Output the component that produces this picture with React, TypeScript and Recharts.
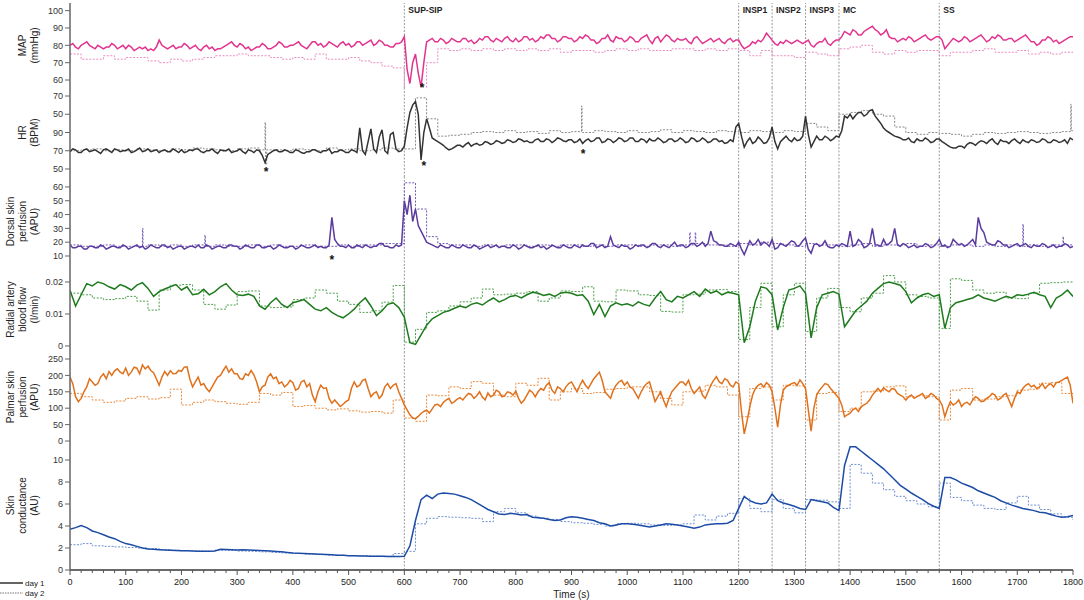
import React from 'react';
import { LineChart, Line, XAxis, YAxis, ReferenceLine, ReferenceDot, Legend } from 'recharts';

const FONT = '"Liberation Sans", Arial, Helvetica, sans-serif';
const W = 1084;

// time grids: fast day-1 traces every 5 s, slow ones every 10 s, day 2 every 20 s (step trace)
const times5 = Array.from({ length: 361 }, (_, i) => i * 5);
const times10 = Array.from({ length: 181 }, (_, i) => i * 10);
const times20 = Array.from({ length: 91 }, (_, i) => i * 20);
const xTicks = Array.from({ length: 91 }, (_, i) => i * 20);

const events = [
  { t: 600, label: 'SUP-SIP' },
  { t: 1200, label: 'INSP1' },
  { t: 1260, label: 'INSP2' },
  { t: 1320, label: 'INSP3' },
  { t: 1380, label: 'MC' },
  { t: 1560, label: 'SS' },
];

// MAP (mmHg), day 1 every 5 s
const mapDay1 = [
  80, 81, 79, 78, 80, 81, 82, 80, 79, 78,
  80, 79, 78, 79, 79, 81, 80, 78, 79, 80,
  78, 80, 79, 77, 78, 79, 78, 79, 77, 78,
  77, 79, 83, 80, 79, 78, 79, 80, 78, 79,
  79, 81, 80, 78, 79, 80, 78, 77, 79, 80,
  78, 79, 77, 78, 78, 79, 80, 81, 82, 80,
  79, 81, 80, 78, 79, 77, 78, 79, 79, 81,
  80, 78, 78, 79, 80, 82, 81, 79, 79, 80,
  80, 81, 82, 80, 79, 78, 80, 82, 82, 80,
  81, 79, 80, 82, 81, 80, 79, 81, 82, 80,
  81, 79, 80, 82, 82, 80, 81, 82, 83, 80,
  81, 83, 82, 80, 80, 79, 79, 81, 81, 82,
  85, 66, 58, 70, 75, 64, 56, 70, 82, 83,
  84, 82, 82, 84, 83, 81, 82, 84, 83, 82,
  82, 84, 84, 82, 83, 81, 82, 84, 83, 85,
  85, 83, 82, 84, 83, 82, 84, 85, 83, 82,
  84, 82, 83, 85, 85, 83, 84, 82, 83, 85,
  84, 86, 86, 84, 84, 82, 83, 85, 85, 84,
  84, 82, 83, 85, 84, 86, 85, 83, 83, 81,
  82, 84, 84, 86, 83, 82, 85, 84, 84, 82,
  83, 85, 84, 82, 82, 84, 85, 86, 83, 81,
  84, 85, 82, 84, 86, 85, 83, 82, 84, 83,
  83, 84, 82, 81, 84, 85, 83, 81, 82, 83,
  84, 82, 83, 84, 82, 81, 83, 84, 82, 83,
  83, 80, 78, 79, 80, 82, 81, 83, 82, 84,
  87, 85, 83, 81, 80, 82, 81, 83, 82, 81,
  82, 83, 82, 81, 82, 83, 80, 79, 81, 82,
  82, 84, 81, 80, 82, 83, 83, 85, 88, 87,
  86, 89, 88, 86, 86, 88, 89, 90, 91, 89,
  88, 86, 87, 89, 85, 84, 84, 82, 83, 84,
  83, 85, 84, 82, 83, 84, 85, 86, 84, 83,
  84, 85, 85, 83, 78, 80, 82, 84, 83, 82,
  83, 85, 84, 82, 83, 84, 85, 86, 84, 82,
  83, 85, 84, 86, 85, 83, 83, 84, 84, 82,
  83, 84, 85, 86, 84, 82, 82, 80, 81, 83,
  83, 85, 84, 82, 83, 81, 82, 83, 84, 85,
  85,
];
const mapDay2 = [
  75, 72, 72, 74, 72, 73, 73, 71, 70, 72,
  71, 72, 73, 74, 74, 75, 74, 74, 73, 72,
  73, 72, 75, 72, 72, 73, 71, 70, 68, 67,
  55, 55, 70, 78, 77, 78, 77, 78, 77, 78,
  77, 78, 77, 78, 76, 77, 77, 76, 77, 78,
  77, 78, 77, 77, 78, 78, 77, 78, 77, 78,
  77, 74, 77, 74, 74, 73, 76, 75, 74, 78,
  79, 80, 76, 75, 77, 76, 77, 77, 74, 76,
  76, 77, 78, 76, 76, 77, 75, 76, 75, 76, 77,
];

// HR (BPM), day 1 every 5 s
const hrDay1 = [
  69, 72, 71, 68, 68, 71, 72, 69, 70, 71,
  69, 67, 71, 72, 70, 68, 72, 71, 69, 70,
  70, 72, 68, 69, 71, 73, 69, 70, 72, 69,
  70, 71, 68, 70, 71, 69, 69, 72, 70, 68,
  71, 68, 69, 71, 70, 72, 72, 69, 68, 70,
  70, 72, 69, 67, 71, 70, 70, 72, 68, 69,
  70, 72, 69, 67, 71, 70, 68, 71, 70, 65,
  57, 66, 68, 70, 71, 69, 69, 71, 70, 68,
  68, 71, 70, 68, 67, 69, 69, 71, 71, 69,
  68, 70, 70, 72, 67, 69, 69, 71, 70, 68,
  68, 71, 70, 68, 95, 70, 66, 80, 94, 72,
  68, 85, 93, 70, 67, 88, 90, 72, 69, 70,
  75, 95, 112, 120, 124, 110, 60, 90, 105, 95,
  84, 82, 80, 78, 76, 73, 71, 72, 74, 76,
  76, 74, 77, 79, 75, 77, 78, 76, 77, 80,
  79, 77, 78, 81, 80, 78, 79, 82, 81, 79,
  80, 83, 82, 80, 81, 79, 79, 82, 83, 80,
  80, 83, 82, 79, 81, 84, 83, 81, 80, 82,
  82, 79, 80, 83, 78, 81, 83, 80, 81, 84,
  84, 79, 80, 83, 82, 79, 81, 84, 83, 80,
  81, 84, 84, 80, 80, 83, 82, 79, 83, 81,
  81, 84, 82, 79, 80, 83, 83, 80, 81, 84,
  82, 79, 80, 84, 83, 80, 81, 84, 82, 79,
  80, 83, 83, 80, 81, 78, 79, 82, 80, 96,
  100, 86, 74, 80, 84, 78, 80, 85, 82, 78,
  79, 84, 96, 80, 72, 80, 83, 86, 82, 80,
  84, 81, 82, 86, 108, 88, 74, 80, 86, 82,
  82, 86, 84, 81, 83, 86, 85, 92, 108, 106,
  110, 105, 109, 112, 112, 108, 110, 114, 115, 108,
  104, 100, 95, 92, 90, 88, 86, 85, 84, 82,
  82, 84, 80, 79, 83, 81, 81, 84, 82, 79,
  80, 83, 83, 80, 78, 76, 74, 73, 73, 75,
  75, 73, 77, 79, 78, 76, 79, 81, 80, 78,
  81, 83, 79, 77, 82, 80, 80, 78, 81, 83,
  80, 78, 82, 80, 79, 82, 81, 79, 80, 83,
  82, 79, 79, 82, 81, 79, 80, 82, 78, 84,
  82,
];
const hrDay2 = [
  70, 71, 72, 70, 71, 70, 72, 71, 70, 72,
  71, 73, 72, 71, 70, 72, 73, 71, 71, 70,
  72, 71, 70, 73, 71, 72, 70, 71, 73, 72,
  72, 128, 105, 86, 87, 88, 90, 91, 90, 92,
  90, 91, 89, 92, 90, 91, 90, 92, 91, 90,
  92, 90, 91, 93, 90, 92, 91, 90, 92, 91,
  90, 92, 91, 90, 92, 91, 100, 96, 92, 110,
  112, 114, 110, 108, 96, 90, 88, 90, 89, 88,
  86, 88, 90, 89, 90, 91, 90, 89, 90, 91, 92,
];
const hrDay2Spikes = [[350, 101], [351, 55], [353, 71], [918, 119], [919, 90], [1796, 121], [1797, 92]];
// the HR axis prints these labels at 50, 70, 90, 110, 130
const hrTickLabels = ['50', '70', '90', '50', '70'];

// dorsal skin perfusion (APU), day 1 every 5 s
const dorsalDay1 = [
  18, 16, 16, 17, 17, 15, 15, 17, 17, 16,
  16, 18, 17, 15, 16, 17, 17, 16, 16, 18,
  17, 15, 16, 17, 18, 16, 17, 15, 16, 18,
  17, 16, 16, 18, 18, 16, 17, 15, 16, 17,
  17, 15, 16, 17, 17, 16, 18, 16, 16, 18,
  17, 15, 16, 17, 17, 16, 16, 18, 18, 17,
  17, 15, 16, 18, 17, 16, 16, 18, 18, 16,
  16, 17, 17, 15, 16, 18, 17, 16, 16, 17,
  17, 15, 16, 18, 17, 16, 16, 17, 18, 16,
  17, 16, 16, 18, 38, 22, 19, 17, 17, 16,
  18, 16, 16, 18, 17, 16, 18, 17, 16, 17,
  17, 19, 19, 17, 17, 16, 16, 18, 17, 18,
  50, 40, 54, 35, 44, 32, 28, 24, 20, 19,
  18, 17, 16, 18, 17, 16, 16, 18, 17, 16,
  16, 18, 17, 16, 16, 18, 17, 15, 16, 17,
  18, 16, 17, 18, 16, 17, 17, 16, 16, 18,
  17, 15, 16, 18, 17, 16, 16, 17, 18, 16,
  17, 15, 16, 18, 17, 16, 16, 18, 17, 16,
  16, 18, 17, 16, 18, 17, 17, 19, 19, 16,
  17, 18, 16, 17, 24, 18, 17, 16, 18, 17,
  17, 15, 16, 18, 17, 18, 18, 16, 17, 19,
  19, 17, 16, 18, 17, 16, 18, 20, 17, 18,
  18, 16, 17, 19, 19, 17, 18, 20, 17, 19,
  28, 21, 20, 18, 18, 17, 17, 19, 18, 17,
  20, 15, 11, 16, 21, 18, 19, 22, 18, 20,
  19, 17, 22, 15, 16, 19, 18, 17, 19, 21,
  20, 17, 18, 21, 23, 15, 12, 18, 19, 17,
  18, 21, 17, 16, 16, 18, 17, 19, 18, 17,
  28, 17, 18, 22, 20, 16, 17, 19, 30, 18,
  18, 17, 22, 18, 19, 21, 30, 18, 17, 19,
  18, 16, 17, 18, 16, 17, 17, 19, 18, 16,
  17, 19, 22, 17, 18, 16, 17, 22, 20, 18,
  19, 17, 18, 20, 22, 18, 38, 30, 27, 20,
  19, 18, 18, 21, 20, 18, 18, 16, 17, 18,
  19, 17, 18, 19, 17, 16, 18, 17, 17, 19,
  18, 16, 17, 18, 16, 17, 17, 19, 18, 16,
  17,
];
const dorsalDay2 = [
  18, 17, 17, 18, 17, 17, 17, 18, 17, 18,
  17, 18, 17, 18, 17, 17, 18, 17, 18, 17,
  17, 18, 17, 17, 18, 17, 18, 18, 19, 19,
  63, 44, 24, 19, 18, 18, 17, 18, 17, 18,
  18, 17, 18, 17, 18, 18, 17, 18, 17, 18,
  18, 17, 18, 18, 17, 18, 19, 18, 18, 17,
  19, 18, 20, 19, 18, 17, 19, 18, 18, 17,
  18, 19, 17, 18, 18, 19, 17, 18, 17, 18,
  18, 17, 18, 17, 18, 17, 18, 17, 18, 17, 18,
];
const dorsalDay2Spikes = [[130, 30], [131, 17], [242, 25], [243, 17], [1112, 27], [1113, 18], [1122, 27], [1123, 19], [1710, 33], [1711, 17], [1782, 24], [1783, 18]];

// radial artery blood flow (l/min), day 1 every 10 s
const radialDay1 = [
  0.0174, 0.0125, 0.016, 0.0195, 0.0188, 0.02, 0.0195, 0.0185, 0.0178, 0.0192,
  0.0185, 0.0175, 0.019, 0.0198, 0.018, 0.0155, 0.017, 0.0178, 0.0185, 0.0192,
  0.0175, 0.0185, 0.016, 0.0163, 0.0177, 0.016, 0.017, 0.0185, 0.0195, 0.0175,
  0.016, 0.0158, 0.0162, 0.0155, 0.0125, 0.0115, 0.0135, 0.015, 0.013, 0.012,
  0.0135, 0.014, 0.0145, 0.013, 0.0115, 0.011, 0.012, 0.0105, 0.0095, 0.0088,
  0.01, 0.0115, 0.0135, 0.015, 0.0125, 0.0095, 0.011, 0.013, 0.0135, 0.012,
  0.009, 0.001, 0.0005, 0.0035, 0.0065, 0.0085, 0.0095, 0.0105, 0.011, 0.0118,
  0.0125, 0.012, 0.013, 0.0135, 0.0128, 0.014, 0.015, 0.0138, 0.0145, 0.0155,
  0.0158, 0.015, 0.016, 0.0168, 0.0165, 0.0158, 0.0162, 0.0155, 0.0165, 0.0168,
  0.0165, 0.0158, 0.016, 0.014, 0.0098, 0.013, 0.0092, 0.0125, 0.0135, 0.0128,
  0.0132, 0.0125, 0.0138, 0.013, 0.0125, 0.015, 0.017, 0.0145, 0.0138, 0.0155,
  0.015, 0.016, 0.017, 0.0155, 0.0178, 0.0165, 0.0172, 0.016, 0.0168, 0.0165,
  0.016, 0.001, 0.006, 0.014, 0.0185, 0.018, 0.016, 0.005, 0.012, 0.0175,
  0.018, 0.0188, 0.0165, 0.0025, 0.012, 0.016, 0.0165, 0.017, 0.0162, 0.006,
  0.0085, 0.011, 0.0125, 0.014, 0.0165, 0.018, 0.0195, 0.02, 0.0195, 0.019,
  0.017, 0.0135, 0.015, 0.016, 0.0165, 0.0155, 0.016, 0.0055, 0.012, 0.0135,
  0.014, 0.0145, 0.015, 0.016, 0.015, 0.0145, 0.014, 0.0148, 0.0155, 0.015,
  0.016, 0.0158, 0.0162, 0.0168, 0.016, 0.0155, 0.012, 0.015, 0.016, 0.0175,
  0.0155,
];
const radialDay2 = [
  0.0165, 0.016, 0.015, 0.0145, 0.0148, 0.0155, 0.014, 0.0112, 0.0175, 0.019,
  0.0192, 0.0175, 0.013, 0.0115, 0.0128, 0.017, 0.0172, 0.0125, 0.012, 0.0122,
  0.0145, 0.015, 0.0175, 0.0165, 0.014, 0.013, 0.0105, 0.011, 0.0137, 0.0189,
  0.0012, 0.0052, 0.0105, 0.011, 0.0125, 0.0138, 0.015, 0.0178, 0.016, 0.0162,
  0.0165, 0.017, 0.014, 0.015, 0.0172, 0.017, 0.0185, 0.014, 0.0138, 0.0175,
  0.0172, 0.016, 0.0158, 0.0108, 0.0106, 0.016, 0.0162, 0.0175, 0.0176, 0.017,
  0.002, 0.012, 0.0196, 0.006, 0.016, 0.0196, 0.0045, 0.015, 0.018, 0.012,
  0.0107, 0.015, 0.0165, 0.022, 0.02, 0.016, 0.0155, 0.015, 0.0055, 0.021,
  0.0205, 0.0175, 0.0165, 0.0168, 0.015, 0.0148, 0.0165, 0.0196, 0.0198, 0.02, 0.02,
];

// palmar skin perfusion (APU), day 1 every 5 s
const palmarDay1 = [
  195, 175, 135, 120, 130, 150, 165, 190, 180, 170,
  175, 195, 205, 190, 212, 200, 214, 220, 210, 205,
  222, 200, 210, 225, 222, 205, 232, 220, 228, 215,
  208, 190, 170, 195, 212, 200, 214, 205, 206, 215,
  212, 225, 226, 190, 165, 180, 195, 170, 175, 160,
  150, 165, 180, 195, 200, 215, 228, 210, 220, 205,
  205, 190, 188, 205, 200, 215, 202, 180, 150, 165,
  170, 195, 205, 190, 195, 175, 180, 165, 172, 185,
  178, 155, 160, 180, 185, 165, 175, 140, 120, 150,
  170, 160, 162, 130, 115, 125, 115, 105, 112, 120,
  125, 160, 180, 165, 170, 185, 188, 160, 135, 145,
  150, 130, 140, 165, 175, 160, 170, 175, 150, 130,
  110, 95, 80, 70, 68, 75, 84, 90, 94, 85,
  98, 110, 112, 105, 118, 125, 130, 115, 120, 128,
  132, 125, 136, 145, 142, 130, 138, 150, 134, 125,
  146, 135, 140, 155, 150, 135, 138, 150, 147, 140,
  152, 130, 115, 125, 140, 155, 148, 135, 150, 160,
  155, 170, 178, 155, 145, 165, 160, 150, 165, 175,
  180, 165, 150, 170, 185, 170, 160, 175, 190, 200,
  210, 185, 150, 140, 130, 155, 170, 180, 185, 170,
  180, 165, 160, 145, 130, 150, 165, 175, 180, 150,
  120, 135, 150, 125, 105, 130, 150, 160, 170, 180,
  180, 170, 185, 160, 145, 155, 165, 140, 130, 150,
  170, 185, 196, 180, 175, 190, 185, 170, 165, 180,
  175, 90, 22, 60, 105, 140, 160, 170, 175, 165,
  178, 170, 150, 100, 42, 110, 155, 165, 170, 175,
  178, 170, 186, 175, 160, 95, 30, 100, 140, 155,
  165, 175, 172, 160, 150, 140, 130, 110, 74, 80,
  85, 95, 100, 90, 105, 110, 115, 125, 140, 150,
  160, 150, 162, 155, 150, 160, 158, 145, 140, 135,
  125, 135, 140, 130, 135, 140, 145, 130, 135, 145,
  140, 130, 125, 110, 74, 100, 120, 110, 115, 125,
  105, 115, 118, 110, 125, 135, 130, 120, 122, 130,
  135, 145, 140, 125, 130, 140, 145, 125, 105, 130,
  150, 145, 160, 170, 175, 165, 170, 160, 165, 175,
  160, 170, 175, 165, 178, 180, 185, 190, 195, 170,
  115,
];
const palmarDay2 = [
  145, 135, 125, 118, 122, 130, 135, 128, 132, 158,
  110, 118, 125, 120, 115, 112, 118, 145, 140, 148,
  105, 108, 100, 95, 98, 92, 88, 90, 85, 125,
  70, 60, 140, 138, 165, 160, 181, 176, 140, 135,
  176, 170, 191, 125, 150, 160, 145, 148, 158, 160,
  165, 165, 150, 130, 110, 150, 152, 170, 165, 140,
  74, 160, 165, 125, 170, 168, 64, 145, 148, 90,
  100, 150, 152, 165, 168, 135, 138, 135, 64, 155,
  160, 125, 128, 135, 138, 155, 158, 176, 178, 145, 145,
];

// skin conductance (AU), day 1 every 10 s
const skinDay1 = [
  3.7, 3.85, 4.05, 3.85, 3.55, 3.4, 3.2, 3.0, 2.85, 2.6,
  2.4, 2.3, 2.15, 2.0, 1.92, 1.88, 1.85, 1.82, 1.8, 1.78,
  1.75, 1.74, 1.72, 1.71, 1.7, 1.7, 1.72, 1.88, 1.86, 1.84,
  1.82, 1.84, 1.82, 1.8, 1.78, 1.75, 1.72, 1.68, 1.65, 1.6,
  1.55, 1.52, 1.5, 1.47, 1.45, 1.43, 1.4, 1.38, 1.35, 1.33,
  1.3, 1.29, 1.28, 1.27, 1.25, 1.25, 1.24, 1.23, 1.22, 1.22,
  1.25, 2.2, 4.5, 6.4, 6.8, 6.5, 6.9, 7.0, 6.95, 6.9,
  6.75, 6.6, 6.4, 6.1, 5.8, 5.5, 5.3, 5.1, 5.05, 5.15,
  5.1, 5.0, 5.05, 4.8, 4.75, 4.7, 4.6, 4.5, 4.55, 4.75,
  4.85, 4.8, 4.7, 4.6, 4.5, 4.3, 4.2, 4.0, 4.1, 4.2,
  4.2, 4.15, 4.1, 4.0, 3.9, 4.0, 4.1, 4.2, 4.15, 4.1,
  4.0, 3.9, 3.8, 3.9, 4.1, 4.15, 4.2, 4.2, 4.25, 4.5,
  5.6, 6.7, 6.3, 6.1, 6.0, 6.1, 6.9, 6.3, 6.1, 5.95,
  5.8, 5.6, 5.5, 6.4, 6.3, 6.2, 6.1, 5.7, 5.4, 9.5,
  11.2, 11.2, 10.8, 10.4, 10.0, 9.6, 9.2, 8.7, 8.2, 7.7,
  7.35, 7.0, 6.7, 6.4, 6.05, 5.8, 5.6, 8.4, 8.4, 8.2,
  7.9, 7.7, 7.5, 7.2, 7.0, 6.8, 6.6, 6.3, 6.1, 5.9,
  5.75, 5.6, 5.5, 5.4, 5.25, 5.2, 5.05, 4.9, 4.8, 4.85,
  4.95,
];
const skinDay2 = [
  2.3, 2.4, 2.2, 2.15, 2.1, 2.05, 2.0, 1.95, 1.85, 1.8,
  1.75, 1.72, 1.7, 1.8, 1.78, 1.72, 1.7, 1.65, 1.6, 1.55,
  1.5, 1.45, 1.4, 1.35, 1.33, 1.3, 1.28, 1.25, 1.25, 1.5,
  1.7, 4.2, 4.7, 4.85, 4.8, 4.75, 4.7, 4.4, 5.3, 5.6,
  5.2, 4.9, 4.7, 4.6, 4.4, 4.3, 4.25, 4.15, 4.0, 4.2,
  4.25, 4.2, 4.1, 4.05, 4.1, 4.2, 5.0, 4.55, 4.9, 5.15,
  6.5, 5.6, 5.3, 6.4, 5.6, 5.2, 6.4, 6.35, 6.2, 5.6,
  9.6, 8.8, 7.9, 7.3, 6.7, 6.3, 6.0, 5.75, 7.9, 6.6,
  6.3, 5.9, 5.6, 5.5, 6.1, 6.7, 5.9, 5.5, 5.1, 4.8, 4.55,
];

const toRows = (times: number[], vals: number[], extra: number[][] = []) =>
  times
    .map((t, i) => ({ t, v: vals[i] }))
    .concat(extra.map(([t, v]) => ({ t, v })))
    .sort((a, b) => a.t - b.t);

const panels = [
  {
    id: 'map', title: ['MAP', '(mmHg)'], top: 3, bottom: 88,
    domain: [55.4, 104.4], ticks: [60, 70, 80, 90, 100],
    c1: '#e2348f', c2: '#ea8cc0', t1: times5, d1: mapDay1, d2: mapDay2, extra: [],
    marks: [{ t: 632, v: 55.8 }],
  },
  {
    id: 'hr', title: ['HR', '(BPM)'], top: 88, bottom: 177,
    domain: [41.2, 138.8], ticks: [50, 70, 90, 110, 130],
    fmt: (v: number) => hrTickLabels[[50, 70, 90, 110, 130].indexOf(v)],
    c1: '#333333', c2: '#8a8a8a', t1: times5, d1: hrDay1, d2: hrDay2, extra: hrDay2Spikes,
    marks: [{ t: 352, v: 46.5 }, { t: 635, v: 53.5 }, { t: 921, v: 66.5 }],
  },
  {
    id: 'dorsal', title: ['Dorsal skin', 'perfusion', '(APU)'], top: 177, bottom: 266,
    domain: [2.75, 67.2], ticks: [10, 20, 30, 40, 50, 60],
    c1: '#5a3b9e', c2: '#7458b8', t1: times5, d1: dorsalDay1, d2: dorsalDay2, extra: dorsalDay2Spikes,
    marks: [{ t: 470, v: 7.4 }],
  },
  {
    id: 'radial', title: ['Radial artery', 'blood flow', '(l/min)'], top: 266, bottom: 353,
    domain: [-0.0022, 0.025], ticks: [0, 0.01, 0.02],
    fmt: (v: number) => (v === 0 ? '0' : v.toFixed(2)),
    c1: '#1d7a1d', c2: '#4d9e4d', t1: times10, d1: radialDay1, d2: radialDay2, extra: [],
    marks: [],
  },
  {
    id: 'palmar', title: ['Palmar skin', 'perfusion', '(APU)'], top: 353, bottom: 441,
    domain: [0, 268.3], ticks: [0, 50, 100, 150, 200, 250],
    c1: '#e0711c', c2: '#e88a3c', t1: times5, d1: palmarDay1, d2: palmarDay2, extra: [],
    marks: [],
  },
  {
    id: 'skin', title: ['Skin', 'conductance', '(AU)'], top: 441, bottom: 570,
    domain: [0, 11.73], ticks: [0, 2, 4, 6, 8, 10],
    c1: '#1c4ca6', c2: '#6f8fd0', t1: times10, d1: skinDay1, d2: skinDay2, extra: [],
    marks: [],
  },
];

const legendItems = [
  { label: 'day 1', color: '#222', dash: undefined as string | undefined, width: 1.4 },
  { label: 'day 2', color: '#777', dash: '1.5 1', width: 1 },
];

const AxisTitle = ({ lines, cy }: { lines: string[]; cy: number }) => (
  <g>
    {lines.map((s, i) => {
      const x = 34 - (lines.length - 1 - i) * 12 + 3.5;
      return (
        <text key={s} x={x} y={cy} transform={`rotate(-90 ${x} ${cy})`} textAnchor="middle"
          fontSize={10} fill="#222" fontFamily={FONT}>
          {s}
        </text>
      );
    })}
  </g>
);

const XTick = (props: any) => {
  const { x, y, payload } = props;
  const major = payload.value % 100 === 0;
  return (
    <g>
      <line x1={x} x2={x} y1={y} y2={y + (major ? 5 : 3)} stroke="#555" strokeWidth={1} />
      {major && (
        <text x={x} y={y + 15} textAnchor="middle" fontSize={9} fill="#222" fontFamily={FONT}>
          {payload.value}
        </text>
      )}
    </g>
  );
};

const LegendBox = () => (
  <svg width={70} height={24} style={{ overflow: 'visible', display: 'block' }}>
    {legendItems.map((it, i) => (
      <g key={it.label}>
        <line x1={0} x2={23} y1={6 + i * 10} y2={6 + i * 10} stroke={it.color}
          strokeWidth={it.width} strokeDasharray={it.dash} />
        <text x={25} y={9 + i * 10} fontSize={8} fill="#222" fontFamily={FONT}>{it.label}</text>
      </g>
    ))}
  </svg>
);

function Panel({ p, first, last }: { p: any; first: boolean; last: boolean }) {
  const mt = first ? 3 : 0;
  const plotH = p.bottom - p.top;
  const xH = last ? 30 : 0;
  const mb = last ? 0 : 1;
  const h = mt + plotH + xH + mb;
  const cy = mt + plotH / 2;
  const rows1 = toRows(p.t1, p.d1);
  const rows2 = toRows(times20, p.d2, p.extra);
  return (
    <div style={{ position: 'absolute', left: 0, top: p.top - mt }}>
      <LineChart width={W} height={h} margin={{ top: mt, right: 11, bottom: mb, left: 0 }}>
        <XAxis dataKey="t" type="number" domain={[0, 1800]} allowDataOverflow ticks={xTicks}
          interval={0} height={xH} axisLine={{ stroke: '#6a6a6a', strokeWidth: 2 }}
          tickLine={false} tickSize={0} tickMargin={0} tick={last ? XTick : false}
          label={last ? { value: 'Time (s)', position: 'insideBottom', offset: 2, fontSize: 10, fill: '#222', fontFamily: FONT } : undefined} />
        <YAxis type="number" width={70} domain={p.domain} allowDataOverflow ticks={p.ticks}
          interval={0} tickFormatter={p.fmt} tickSize={5} tickMargin={2}
          tick={{ fontSize: 9, fill: '#333', fontFamily: FONT }}
          axisLine={{ stroke: '#666', strokeWidth: 1.5 }} tickLine={{ stroke: '#666' }}
          label={() => <AxisTitle lines={p.title} cy={cy} />} />
        {events.map((e) => (
          <ReferenceLine key={e.t} x={e.t} stroke="#999" strokeWidth={1} strokeDasharray="2 1.5"
            label={first ? { value: e.label, position: 'insideTopLeft', offset: 4, fontSize: 8.5, fontWeight: 'bold', fill: '#222', fontFamily: FONT } : undefined} />
        ))}
        <Line data={rows2} dataKey="v" type="stepAfter" stroke={p.c2} strokeWidth={1}
          strokeDasharray="2 1.5" dot={false} isAnimationActive={false} />
        <Line data={rows1} dataKey="v" type="linear" stroke={p.c1} strokeWidth={1.5}
          dot={false} isAnimationActive={false} />
        {p.marks.map((m: any) => (
          <ReferenceDot key={m.t} x={m.t} y={m.v} r={1} fill="none" stroke="none"
            label={{ value: '*', position: 'center', fontSize: 12, fontWeight: 'bold', fill: '#111', fontFamily: FONT }} />
        ))}
        {last && (
          <Legend content={() => <LegendBox />}
            wrapperStyle={{ position: 'absolute', left: 0, top: 136, width: 70, height: 0 }} />
        )}
      </LineChart>
    </div>
  );
}

export default function App() {
  return (
    <div style={{ position: 'absolute', left: 0, top: 0, width: W, height: 600, background: '#fff', fontFamily: FONT }}>
      <style>{'.recharts-surface { overflow: visible; }'}</style>
      {panels.map((p, i) => (
        <Panel key={p.id} p={p} first={i === 0} last={i === panels.length - 1} />
      ))}
    </div>
  );
}
